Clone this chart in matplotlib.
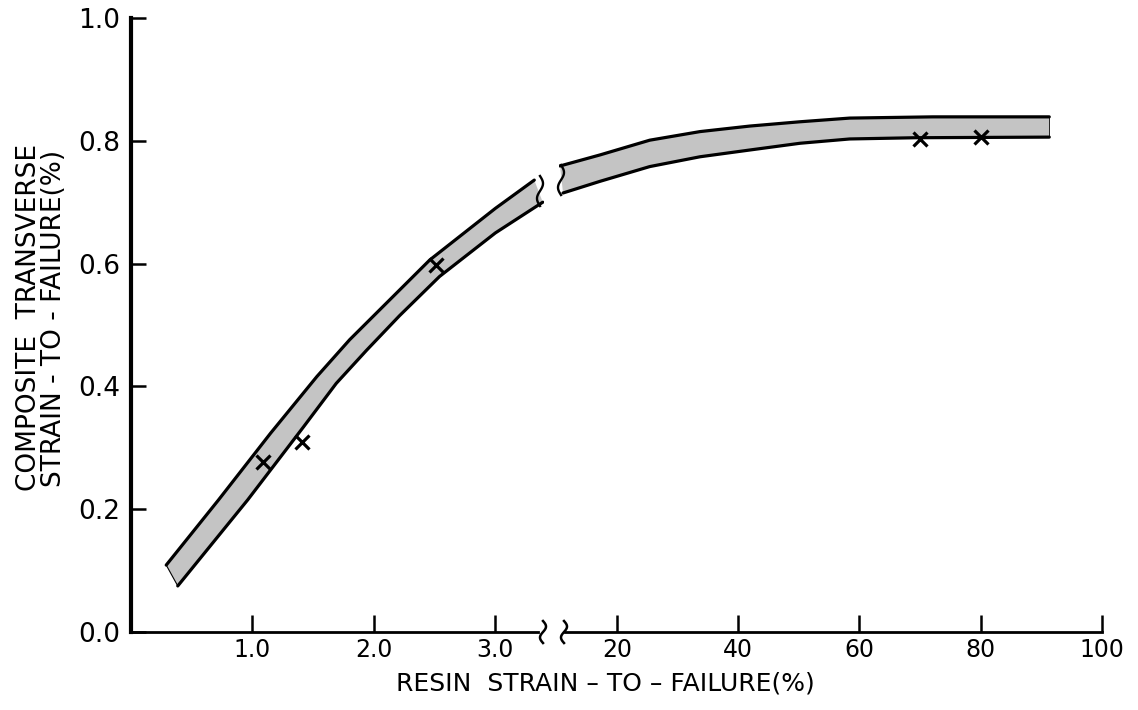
import numpy as np
import matplotlib
matplotlib.use("Agg")
import matplotlib.pyplot as plt

plt.rcParams['font.family'] = ['DejaVu Sans']

# ---- data ----
# left (linear) segment of x axis: resin strain-to-failure 0..3.4 %
left_upper_x = [0.29, 0.72, 1.15, 1.53, 1.80, 2.13, 2.46, 3.00, 3.32]
left_upper_y = [0.109, 0.215, 0.324, 0.416, 0.476, 0.541, 0.606, 0.690, 0.736]
left_lower_x = [0.385, 0.96, 1.42, 1.69, 1.94, 2.21, 2.54, 3.00, 3.39]
left_lower_y = [0.075, 0.215, 0.334, 0.405, 0.459, 0.515, 0.579, 0.650, 0.700]

# right segment of x axis: 10..100 %
right_upper_x = [10.6, 17.2, 25.4, 33.7, 41.9, 50.2, 58.4, 72.1, 91.3]
right_upper_y = [0.759, 0.777, 0.801, 0.815, 0.824, 0.831, 0.837, 0.839, 0.839]
right_lower_x = [11.1, 17.2, 25.4, 33.7, 41.9, 50.2, 58.4, 69.2, 91.3]
right_lower_y = [0.715, 0.734, 0.758, 0.774, 0.785, 0.796, 0.803, 0.805, 0.806]

pts_left_x = [1.09, 1.41, 2.51]
pts_left_y = [0.277, 0.310, 0.597]
pts_right_x = [70, 80]
pts_right_y = [0.803, 0.806]

left_ticks = [1.0, 2.0, 3.0]
left_ticklabels = ["1.0", "2.0", "3.0"]
right_ticks = [20, 40, 60, 80, 100]
right_ticklabels = ["20", "40", "60", "80", "100"]
y_ticks = [0.0, 0.2, 0.4, 0.6, 0.8, 1.0]
y_ticklabels = ["0.0", "0.2", "0.4", "0.6", "0.8", "1.0"]

W, H = 1138, 710
fig = plt.figure(figsize=(W / 100, H / 100), dpi=100)

def fx(px):
    return np.asarray(px) / W

def fy(py):
    return (H - np.asarray(py)) / H

y0, y1 = 632, 18
ax1 = fig.add_axes([fx(131), fy(y0), fx(544) - fx(131), fy(y1) - fy(y0)])
ax2 = fig.add_axes([fx(559.4), fy(y0), fx(1102) - fx(559.4), fy(y1) - fy(y0)])

FILL = '#c4c4c4'
EDGE_LW = 2.3

def band(ax, ux, uy, lx, ly):
    poly_x = list(ux) + list(lx)[::-1]
    poly_y = list(uy) + list(ly)[::-1]
    ax.fill(poly_x, poly_y, facecolor=FILL, edgecolor='none', zorder=1)
    ax.plot(ux, uy, color='black', lw=EDGE_LW, solid_capstyle='round',
            solid_joinstyle='round', zorder=2)
    ax.plot(lx, ly, color='black', lw=EDGE_LW, solid_capstyle='round',
            solid_joinstyle='round', zorder=2)

band(ax1, left_upper_x, left_upper_y, left_lower_x, left_lower_y)
band(ax2, right_upper_x, right_upper_y, right_lower_x, right_lower_y)

# thin end closures
ax1.plot([left_upper_x[0], left_lower_x[0]], [left_upper_y[0], left_lower_y[0]],
         color='black', lw=0.8, zorder=2)
ax2.plot([right_upper_x[-1], right_lower_x[-1]], [right_upper_y[-1], right_lower_y[-1]],
         color='black', lw=0.6, zorder=2)

ax1.plot(pts_left_x, pts_left_y, linestyle='none', marker='x', ms=10,
         mew=2.3, color='black', zorder=3)
ax2.plot(pts_right_x, pts_right_y, linestyle='none', marker='x', ms=10,
         mew=2.3, color='black', zorder=3)

for ax in (ax1, ax2):
    ax.set_ylim(0, 1.0)
    ax.patch.set_alpha(0)
    ax.spines['top'].set_visible(False)
    ax.spines['right'].set_visible(False)
    ax.spines['bottom'].set_linewidth(2.0)

ax1.set_xlim(0, 3.4)
ax2.set_xlim(10.5, 100)

ax1.spines['left'].set_linewidth(3.0)
ax1.set_yticks(y_ticks)
ax1.set_yticklabels(y_ticklabels)
ax1.tick_params(axis='y', direction='in', length=11, width=1.8, labelsize=19, pad=8)
ax1.set_xticks(left_ticks)
ax1.set_xticklabels(left_ticklabels)
ax1.tick_params(axis='x', direction='in', length=12, width=1.8, labelsize=17, pad=4)

ax2.spines['left'].set_visible(False)
ax2.set_yticks([])
ax2.set_xticks(right_ticks)
ax2.set_xticklabels(right_ticklabels)
ax2.tick_params(axis='x', direction='in', length=12, width=1.8, labelsize=17, pad=4)
ax2.spines['bottom'].set_bounds(11.5, 100)
ax1.spines['bottom'].set_bounds(0, 3.35)

# break marks (S-shaped squiggles) in pixel space
def squiggle(cx, cy, h, w, lw=1.8):
    t = np.linspace(0, 1, 40)
    xs = cx - w * np.sin(2 * np.pi * t)
    ys = cy + h / 2 - h * t
    fig.add_artist(plt.Line2D(fx(xs), fy(ys), color='black', lw=lw,
                              transform=fig.transFigure))

squiggle(543, 632, 22, 3)
squiggle(564, 632, 22, 3)
# band ends at the break
squiggle(540, 191, 30, 3, lw=1.7)
squiggle(561, 180, 30, 3, lw=1.7)

fig.text(fx(605), fy(684), "RESIN  STRAIN \u2013 TO \u2013 FAILURE(%)", ha='center',
         va='center', fontsize=18)
fig.text(fx(42), fy(318), "COMPOSITE  TRANSVERSE\nSTRAIN - TO - FAILURE(%)",
         ha='center', va='center', multialignment='center',
         rotation=90, fontsize=19, linespacing=0.95)

fig.savefig("out.png", dpi=100)
